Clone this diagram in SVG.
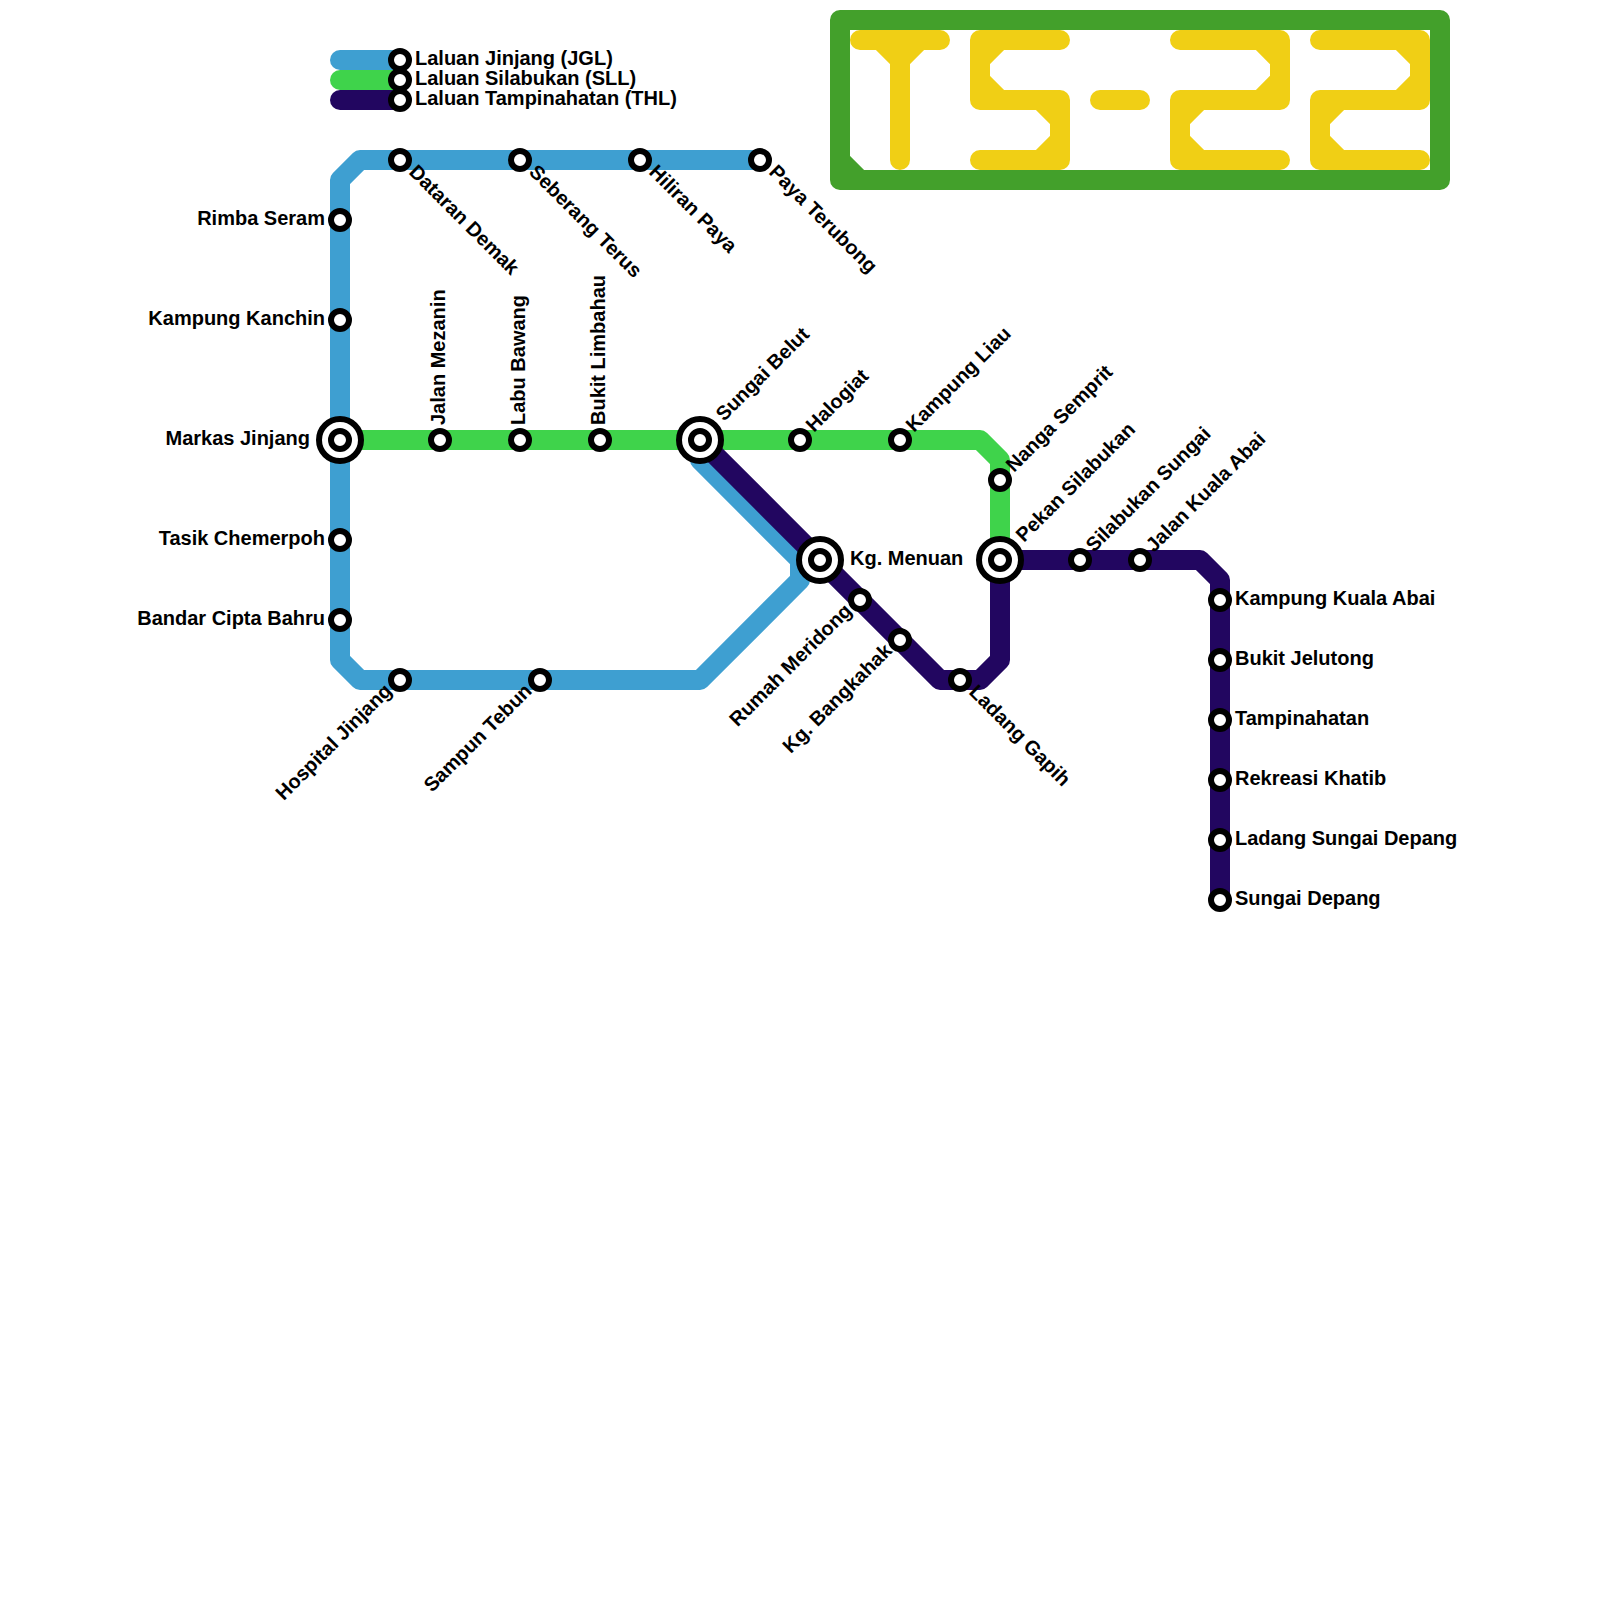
<svg xmlns="http://www.w3.org/2000/svg" width="1600" height="1600" viewBox="0 0 1600 1600">
<style>
.l{fill:none;stroke-width:20;stroke-linecap:round;stroke-linejoin:round}
.b{stroke:#3e9fd1}.g{stroke:#3fd34b}.p{stroke:#220660}.d{stroke:#43a02b}.y{stroke:#f0cf15}
.s{fill:#fff;stroke:#000;stroke-width:6}
text{font-family:"Liberation Sans",Arial,sans-serif;font-weight:700;font-size:20px;fill:#000}
.e{text-anchor:end}
</style>
<defs>
<circle id="st" class="s" r="9"/>
<g id="ix"><circle class="s" r="21"/><circle class="s" r="9"/></g>
</defs>
<rect width="1600" height="1600" fill="#fff"/>
<g id="connectors">
<path class="l d" d="M840 20H1440V180H840ZM840 160L860 180"/>
<path class="l y" d="M860 40H940M880 40L900 60V160M920 40L900 60"/>
<path class="l y" d="M1060 40H980V100H1060V160H980M1000 40L980 60M980 80L1000 100M1040 100L1060 120M1060 140L1040 160"/>
<path class="l y" d="M1100 100H1140"/>
<path class="l y" d="M1180 40H1280V100H1180V160H1280M1260 40L1280 60M1280 80L1260 100M1200 100L1180 120M1180 140L1200 160"/>
<path class="l y" d="M1320 40H1420V100H1320V160H1420M1400 40L1420 60M1420 80L1400 100M1340 100L1320 120M1320 140L1340 160"/>
<path class="l b" d="M340 60H400"/>
<path class="l g" d="M340 80H400"/>
<path class="l p" d="M340 100H400"/>
<path class="l b" d="M760 160H360L340 180V660L360 680H700L800 580V560L700 460V440"/>
<path class="l g" d="M340 440H980L1000 460V560"/>
<path class="l p" d="M700 440L940 680H980L1000 660V560H1200L1220 580V900"/>
</g>
<g id="leg-jgl"><use href="#st" x="400" y="60"/><text x="415" y="65">Laluan Jinjang (JGL)</text></g>
<g id="leg-sll"><use href="#st" x="400" y="80"/><text x="415" y="85">Laluan Silabukan (SLL)</text></g>
<g id="leg-thl"><use href="#st" x="400" y="100"/><text x="415" y="105">Laluan Tampinahatan (THL)</text></g>
<g id="n1"><use href="#st" x="400" y="160"/><text transform="translate(408 173) rotate(45)">Dataran Demak</text></g>
<g id="n2"><use href="#st" x="520" y="160"/><text transform="translate(528 173) rotate(45)">Seberang Terus</text></g>
<g id="n3"><use href="#st" x="640" y="160"/><text transform="translate(648 173) rotate(45)">Hiliran Paya</text></g>
<g id="n4"><use href="#st" x="760" y="160"/><text transform="translate(768 173) rotate(45)">Paya Terubong</text></g>
<g id="n5"><use href="#st" x="340" y="220"/><text class="e" x="325" y="225">Rimba Seram</text></g>
<g id="n6"><use href="#st" x="340" y="320"/><text class="e" x="325" y="325">Kampung Kanchin</text></g>
<g id="n7"><use href="#ix" x="340" y="440"/><text class="e" x="310" y="445">Markas Jinjang</text></g>
<g id="n8"><use href="#st" x="340" y="540"/><text class="e" x="325" y="545">Tasik Chemerpoh</text></g>
<g id="n9"><use href="#st" x="340" y="620"/><text class="e" x="325" y="625">Bandar Cipta Bahru</text></g>
<g id="n10"><use href="#st" x="400" y="680"/><text class="e" transform="translate(393 692) rotate(-45)">Hospital Jinjang</text></g>
<g id="n11"><use href="#st" x="540" y="680"/><text class="e" transform="translate(533 692) rotate(-45)">Sampun Tebun</text></g>
<g id="n12"><use href="#st" x="440" y="440"/><text transform="translate(445 425) rotate(-90)">Jalan Mezanin</text></g>
<g id="n13"><use href="#st" x="520" y="440"/><text transform="translate(525 425) rotate(-90)">Labu Bawang</text></g>
<g id="n14"><use href="#st" x="600" y="440"/><text transform="translate(605 425) rotate(-90)">Bukit Limbahau</text></g>
<g id="n15"><use href="#ix" x="700" y="440"/><text transform="translate(724 422) rotate(-45)">Sungai Belut</text></g>
<g id="n16"><use href="#st" x="800" y="440"/><text transform="translate(814 433) rotate(-45)">Halogiat</text></g>
<g id="n17"><use href="#st" x="900" y="440"/><text transform="translate(914 433) rotate(-45)">Kampung Liau</text></g>
<g id="n18"><use href="#st" x="1000" y="480"/><text transform="translate(1014 473) rotate(-45)">Nanga Semprit</text></g>
<g id="n19"><use href="#ix" x="1000" y="560"/><text transform="translate(1024 543) rotate(-45)">Pekan Silabukan</text></g>
<g id="n20"><use href="#ix" x="820" y="560"/><text x="850" y="565">Kg. Menuan</text></g>
<g id="n21"><use href="#st" x="860" y="600"/><text class="e" transform="translate(853 612) rotate(-45)">Rumah Meridong</text></g>
<g id="n22"><use href="#st" x="900" y="640"/><text class="e" transform="translate(893 652) rotate(-45)">Kg. Bangkahak</text></g>
<g id="n23"><use href="#st" x="960" y="680"/><text transform="translate(968 693) rotate(45)">Ladang Gapih</text></g>
<g id="n24"><use href="#st" x="1080" y="560"/><text transform="translate(1094 553) rotate(-45)">Silabukan Sungai</text></g>
<g id="n25"><use href="#st" x="1140" y="560"/><text transform="translate(1154 553) rotate(-45)">Jalan Kuala Abai</text></g>
<g id="n26"><use href="#st" x="1220" y="600"/><text x="1235" y="605">Kampung Kuala Abai</text></g>
<g id="n27"><use href="#st" x="1220" y="660"/><text x="1235" y="665">Bukit Jelutong</text></g>
<g id="n28"><use href="#st" x="1220" y="720"/><text x="1235" y="725">Tampinahatan</text></g>
<g id="n29"><use href="#st" x="1220" y="780"/><text x="1235" y="785">Rekreasi Khatib</text></g>
<g id="n30"><use href="#st" x="1220" y="840"/><text x="1235" y="845">Ladang Sungai Depang</text></g>
<g id="n31"><use href="#st" x="1220" y="900"/><text x="1235" y="905">Sungai Depang</text></g>
</svg>
